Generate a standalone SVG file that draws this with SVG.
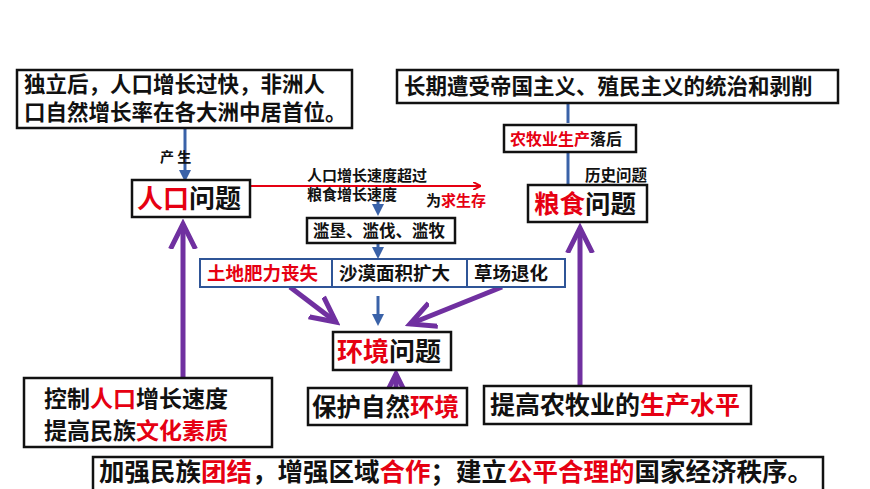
<svg xmlns="http://www.w3.org/2000/svg" width="870" height="489" viewBox="0 0 870 489">
<defs>
<style>
text{font-family:"Noto Sans CJK SC","Liberation Sans",sans-serif;font-weight:bold;fill:#111}
.r{fill:#e60012}
.b{fill:#fff;stroke:#111;stroke-width:2.5}
.bb{fill:#fff;stroke:#2f5597;stroke-width:2}
.blue{stroke:#3a62a8;stroke-width:3;fill:none}
.pur{stroke:#7030a0;stroke-width:5;fill:none}
</style>
<marker id="ab" markerWidth="4" markerHeight="4" refX="2" refY="2" orient="auto" markerUnits="strokeWidth"><path d="M0,0L4,2L0,4z" fill="#3a62a8"/></marker>
<marker id="ar" markerWidth="8" markerHeight="8" refX="7" refY="4" orient="auto" markerUnits="userSpaceOnUse"><path d="M0,0L8,4L0,8" fill="none" stroke="#e60012" stroke-width="2"/></marker>
<marker id="ap" markerWidth="6" markerHeight="6" refX="5" refY="3" orient="auto" markerUnits="strokeWidth"><path d="M0,0.5L5,3L0,5.5" fill="none" stroke="#7030a0" stroke-width="1"/></marker>
</defs>
<rect width="870" height="489" fill="#fff"/>
<g id="connectors">
<line class="blue" x1="185" y1="129" x2="185" y2="176" marker-end="url(#ab)"/>
<line x1="245" y1="186" x2="480" y2="186" stroke="#e60012" stroke-width="2" marker-end="url(#ar)"/>
<line class="blue" x1="378" y1="200" x2="378" y2="210" marker-end="url(#ab)"/>
<line class="blue" x1="378" y1="243" x2="378" y2="253" marker-end="url(#ab)"/>
<line class="blue" x1="378" y1="296" x2="378" y2="320" marker-end="url(#ab)"/>
<line class="blue" x1="568" y1="104" x2="568" y2="123"/>
<line class="blue" x1="568" y1="152" x2="568" y2="184"/>
<line class="pur" x1="290" y1="287" x2="336" y2="322" marker-end="url(#ap)"/>
<line class="pur" x1="502" y1="287" x2="410" y2="324" marker-end="url(#ap)"/>
<line class="pur" x1="183" y1="378" x2="183" y2="224" marker-end="url(#ap)"/>
<line class="pur" x1="580" y1="385" x2="580" y2="228" marker-end="url(#ap)"/>
<line class="pur" x1="396" y1="387" x2="396" y2="374" stroke-width="4" marker-end="url(#ap)"/>
</g>
<g id="n1"><rect class="b" x="17" y="70" width="335" height="58"/>
<text x="24" y="92" font-size="21.5">独立后，人口增长过快，非洲人</text>
<text x="24" y="120" font-size="21.5">口自然增长率在各大洲中居首位。</text></g>
<g id="n2"><rect class="b" x="397" y="70" width="441" height="33"/>
<text x="404" y="94" font-size="21.5">长期遭受帝国主义、殖民主义的统治和剥削</text></g>
<g id="l1"><text x="160" y="162" font-size="14">产  生</text></g>
<g id="n3"><rect class="b" x="132" y="180" width="118" height="37"/>
<text x="137" y="208" font-size="26"><tspan class="r">人口</tspan>问题</text></g>
<g id="l2"><text x="307" y="181" font-size="15">人口增长速度超过</text>
<text x="307" y="200" font-size="15">粮食增长速度</text>
<text x="426" y="206" font-size="15">为<tspan class="r">求生存</tspan></text></g>
<g id="n4"><rect class="b" x="504" y="125" width="132" height="27"/>
<text x="510" y="145" font-size="16"><tspan class="r">农牧业生产</tspan>落后</text></g>
<g id="l3"><text x="585" y="181" font-size="15.5">历史问题</text></g>
<g id="n5"><rect class="b" x="528" y="185" width="119" height="37"/>
<text x="534" y="213" font-size="25.5"><tspan class="r">粮食</tspan>问题</text></g>
<g id="n6"><rect class="b" x="307" y="218" width="148" height="25" stroke-width="2"/>
<text x="313" y="237" font-size="16.5">滥垦、滥伐、滥牧</text></g>
<g id="n7"><rect class="bb" x="200" y="259" width="365" height="28"/>
<line x1="332" y1="259" x2="332" y2="287" stroke="#2f5597" stroke-width="2"/>
<line x1="467" y1="259" x2="467" y2="287" stroke="#2f5597" stroke-width="2"/>
<text x="207" y="280" font-size="18.5" class="r">土地肥力丧失</text>
<text x="339" y="280" font-size="18.5">沙漠面积扩大</text>
<text x="474" y="280" font-size="18.5">草场退化</text></g>
<g id="n8"><rect class="b" x="333" y="332" width="118" height="38"/>
<text x="337" y="361" font-size="26"><tspan class="r">环境</tspan>问题</text></g>
<g id="n9"><rect class="b" x="24" y="378" width="248" height="69"/>
<text x="44" y="407" font-size="23">控制<tspan class="r">人口</tspan>增长速度</text>
<text x="44" y="439" font-size="23">提高民族<tspan class="r">文化素质</tspan></text></g>
<g id="n10"><rect class="b" x="308" y="388" width="159" height="37"/>
<text x="312" y="416" font-size="24.5">保护自然<tspan class="r">环境</tspan></text></g>
<g id="n11"><rect class="b" x="484" y="386" width="267" height="38"/>
<text x="490" y="414" font-size="25">提高农牧业的<tspan class="r">生产水平</tspan></text></g>
<g id="n12"><rect class="b" x="93" y="457" width="730" height="40"/>
<text x="99" y="481" font-size="25.5">加强民族<tspan class="r">团结</tspan>，增强区域<tspan class="r">合作</tspan>；建立<tspan class="r">公平合理的</tspan>国家经济秩序。</text></g>
</svg>
